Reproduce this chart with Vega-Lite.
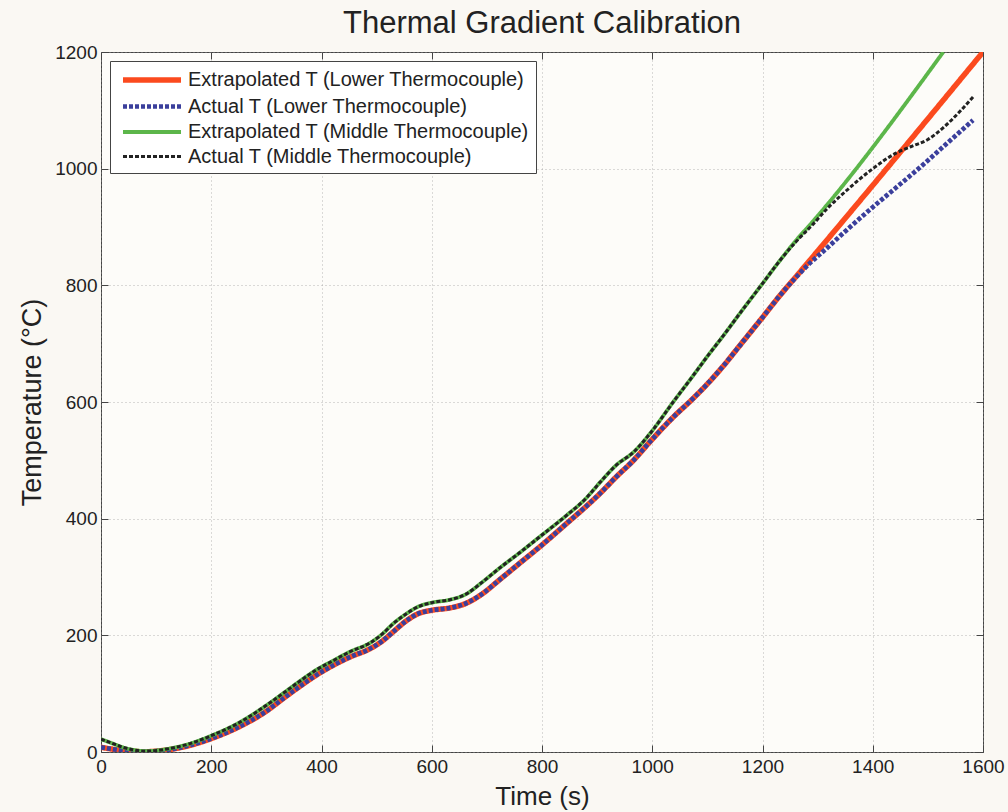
{
  "$schema": "https://vega.github.io/schema/vega-lite/v6.json",
  "width": 882,
  "height": 700,
  "autosize": "none",
  "padding": {"left": 101, "top": 52, "right": 25, "bottom": 60},
  "background": "#faf8f3",
  "title": {"text": "Thermal Gradient Calibration", "fontSize": 31, "font": "Liberation Sans", "fontWeight": "normal", "color": "#222222", "offset": 3},
  "config": {"view": {"stroke": "#444444", "strokeWidth": 1, "fill": "#fdfcf9"}, "font": "Liberation Sans"},
  "data": {"values": [
    {"s": "Extrapolated T (Lower Thermocouple)", "t": 0, "T": 8},
    {"s": "Extrapolated T (Lower Thermocouple)", "t": 20, "T": 5},
    {"s": "Extrapolated T (Lower Thermocouple)", "t": 40, "T": 2.5},
    {"s": "Extrapolated T (Lower Thermocouple)", "t": 60, "T": 1},
    {"s": "Extrapolated T (Lower Thermocouple)", "t": 80, "T": 0.5},
    {"s": "Extrapolated T (Lower Thermocouple)", "t": 100, "T": 1.5},
    {"s": "Extrapolated T (Lower Thermocouple)", "t": 130, "T": 5},
    {"s": "Extrapolated T (Lower Thermocouple)", "t": 160, "T": 11},
    {"s": "Extrapolated T (Lower Thermocouple)", "t": 200, "T": 23},
    {"s": "Extrapolated T (Lower Thermocouple)", "t": 250, "T": 43},
    {"s": "Extrapolated T (Lower Thermocouple)", "t": 300, "T": 70},
    {"s": "Extrapolated T (Lower Thermocouple)", "t": 331, "T": 92},
    {"s": "Extrapolated T (Lower Thermocouple)", "t": 360, "T": 112},
    {"s": "Extrapolated T (Lower Thermocouple)", "t": 391, "T": 132},
    {"s": "Extrapolated T (Lower Thermocouple)", "t": 420, "T": 148},
    {"s": "Extrapolated T (Lower Thermocouple)", "t": 452, "T": 163},
    {"s": "Extrapolated T (Lower Thermocouple)", "t": 488, "T": 177},
    {"s": "Extrapolated T (Lower Thermocouple)", "t": 510, "T": 190},
    {"s": "Extrapolated T (Lower Thermocouple)", "t": 530, "T": 206},
    {"s": "Extrapolated T (Lower Thermocouple)", "t": 554, "T": 225},
    {"s": "Extrapolated T (Lower Thermocouple)", "t": 575, "T": 237},
    {"s": "Extrapolated T (Lower Thermocouple)", "t": 600, "T": 243},
    {"s": "Extrapolated T (Lower Thermocouple)", "t": 633, "T": 247},
    {"s": "Extrapolated T (Lower Thermocouple)", "t": 660, "T": 254},
    {"s": "Extrapolated T (Lower Thermocouple)", "t": 690, "T": 270},
    {"s": "Extrapolated T (Lower Thermocouple)", "t": 724, "T": 296},
    {"s": "Extrapolated T (Lower Thermocouple)", "t": 760, "T": 324},
    {"s": "Extrapolated T (Lower Thermocouple)", "t": 800, "T": 355},
    {"s": "Extrapolated T (Lower Thermocouple)", "t": 845, "T": 392},
    {"s": "Extrapolated T (Lower Thermocouple)", "t": 880, "T": 421},
    {"s": "Extrapolated T (Lower Thermocouple)", "t": 905, "T": 443},
    {"s": "Extrapolated T (Lower Thermocouple)", "t": 935, "T": 472},
    {"s": "Extrapolated T (Lower Thermocouple)", "t": 966, "T": 500},
    {"s": "Extrapolated T (Lower Thermocouple)", "t": 996, "T": 532},
    {"s": "Extrapolated T (Lower Thermocouple)", "t": 1038, "T": 574},
    {"s": "Extrapolated T (Lower Thermocouple)", "t": 1074, "T": 606},
    {"s": "Extrapolated T (Lower Thermocouple)", "t": 1099, "T": 630},
    {"s": "Extrapolated T (Lower Thermocouple)", "t": 1130, "T": 663},
    {"s": "Extrapolated T (Lower Thermocouple)", "t": 1159, "T": 697},
    {"s": "Extrapolated T (Lower Thermocouple)", "t": 1200, "T": 745},
    {"s": "Extrapolated T (Lower Thermocouple)", "t": 1232, "T": 783},
    {"s": "Extrapolated T (Lower Thermocouple)", "t": 1260, "T": 814},
    {"s": "Extrapolated T (Lower Thermocouple)", "t": 1286, "T": 843},
    {"s": "Extrapolated T (Lower Thermocouple)", "t": 1600, "T": 1200},

    {"s": "Actual T (Lower Thermocouple)", "t": 0, "T": 8},
    {"s": "Actual T (Lower Thermocouple)", "t": 20, "T": 5},
    {"s": "Actual T (Lower Thermocouple)", "t": 40, "T": 2.5},
    {"s": "Actual T (Lower Thermocouple)", "t": 60, "T": 1},
    {"s": "Actual T (Lower Thermocouple)", "t": 80, "T": 0.5},
    {"s": "Actual T (Lower Thermocouple)", "t": 100, "T": 1.5},
    {"s": "Actual T (Lower Thermocouple)", "t": 130, "T": 5},
    {"s": "Actual T (Lower Thermocouple)", "t": 160, "T": 11},
    {"s": "Actual T (Lower Thermocouple)", "t": 200, "T": 23},
    {"s": "Actual T (Lower Thermocouple)", "t": 250, "T": 43},
    {"s": "Actual T (Lower Thermocouple)", "t": 300, "T": 70},
    {"s": "Actual T (Lower Thermocouple)", "t": 331, "T": 92},
    {"s": "Actual T (Lower Thermocouple)", "t": 360, "T": 112},
    {"s": "Actual T (Lower Thermocouple)", "t": 391, "T": 132},
    {"s": "Actual T (Lower Thermocouple)", "t": 420, "T": 148},
    {"s": "Actual T (Lower Thermocouple)", "t": 452, "T": 163},
    {"s": "Actual T (Lower Thermocouple)", "t": 488, "T": 177},
    {"s": "Actual T (Lower Thermocouple)", "t": 510, "T": 190},
    {"s": "Actual T (Lower Thermocouple)", "t": 530, "T": 206},
    {"s": "Actual T (Lower Thermocouple)", "t": 554, "T": 225},
    {"s": "Actual T (Lower Thermocouple)", "t": 575, "T": 237},
    {"s": "Actual T (Lower Thermocouple)", "t": 600, "T": 243},
    {"s": "Actual T (Lower Thermocouple)", "t": 633, "T": 247},
    {"s": "Actual T (Lower Thermocouple)", "t": 660, "T": 254},
    {"s": "Actual T (Lower Thermocouple)", "t": 690, "T": 270},
    {"s": "Actual T (Lower Thermocouple)", "t": 724, "T": 296},
    {"s": "Actual T (Lower Thermocouple)", "t": 760, "T": 324},
    {"s": "Actual T (Lower Thermocouple)", "t": 800, "T": 355},
    {"s": "Actual T (Lower Thermocouple)", "t": 845, "T": 392},
    {"s": "Actual T (Lower Thermocouple)", "t": 880, "T": 421},
    {"s": "Actual T (Lower Thermocouple)", "t": 905, "T": 443},
    {"s": "Actual T (Lower Thermocouple)", "t": 935, "T": 472},
    {"s": "Actual T (Lower Thermocouple)", "t": 966, "T": 500},
    {"s": "Actual T (Lower Thermocouple)", "t": 996, "T": 532},
    {"s": "Actual T (Lower Thermocouple)", "t": 1038, "T": 574},
    {"s": "Actual T (Lower Thermocouple)", "t": 1074, "T": 606},
    {"s": "Actual T (Lower Thermocouple)", "t": 1099, "T": 630},
    {"s": "Actual T (Lower Thermocouple)", "t": 1130, "T": 663},
    {"s": "Actual T (Lower Thermocouple)", "t": 1159, "T": 697},
    {"s": "Actual T (Lower Thermocouple)", "t": 1200, "T": 745},
    {"s": "Actual T (Lower Thermocouple)", "t": 1232, "T": 783},
    {"s": "Actual T (Lower Thermocouple)", "t": 1260, "T": 813},
    {"s": "Actual T (Lower Thermocouple)", "t": 1286, "T": 838},
    {"s": "Actual T (Lower Thermocouple)", "t": 1310, "T": 858},
    {"s": "Actual T (Lower Thermocouple)", "t": 1353, "T": 895},
    {"s": "Actual T (Lower Thermocouple)", "t": 1400, "T": 934},
    {"s": "Actual T (Lower Thermocouple)", "t": 1443, "T": 968},
    {"s": "Actual T (Lower Thermocouple)", "t": 1500, "T": 1014},
    {"s": "Actual T (Lower Thermocouple)", "t": 1540, "T": 1048},
    {"s": "Actual T (Lower Thermocouple)", "t": 1582, "T": 1083},

    {"s": "Extrapolated T (Middle Thermocouple)", "t": 0, "T": 22},
    {"s": "Extrapolated T (Middle Thermocouple)", "t": 20, "T": 15},
    {"s": "Extrapolated T (Middle Thermocouple)", "t": 40, "T": 8},
    {"s": "Extrapolated T (Middle Thermocouple)", "t": 60, "T": 3.5},
    {"s": "Extrapolated T (Middle Thermocouple)", "t": 80, "T": 1.5},
    {"s": "Extrapolated T (Middle Thermocouple)", "t": 100, "T": 2.5},
    {"s": "Extrapolated T (Middle Thermocouple)", "t": 130, "T": 7},
    {"s": "Extrapolated T (Middle Thermocouple)", "t": 160, "T": 14},
    {"s": "Extrapolated T (Middle Thermocouple)", "t": 200, "T": 28},
    {"s": "Extrapolated T (Middle Thermocouple)", "t": 250, "T": 50},
    {"s": "Extrapolated T (Middle Thermocouple)", "t": 300, "T": 80},
    {"s": "Extrapolated T (Middle Thermocouple)", "t": 331, "T": 101},
    {"s": "Extrapolated T (Middle Thermocouple)", "t": 360, "T": 121},
    {"s": "Extrapolated T (Middle Thermocouple)", "t": 391, "T": 141},
    {"s": "Extrapolated T (Middle Thermocouple)", "t": 420, "T": 156},
    {"s": "Extrapolated T (Middle Thermocouple)", "t": 452, "T": 172},
    {"s": "Extrapolated T (Middle Thermocouple)", "t": 488, "T": 187},
    {"s": "Extrapolated T (Middle Thermocouple)", "t": 510, "T": 202},
    {"s": "Extrapolated T (Middle Thermocouple)", "t": 530, "T": 220},
    {"s": "Extrapolated T (Middle Thermocouple)", "t": 554, "T": 237},
    {"s": "Extrapolated T (Middle Thermocouple)", "t": 575, "T": 249},
    {"s": "Extrapolated T (Middle Thermocouple)", "t": 600, "T": 256},
    {"s": "Extrapolated T (Middle Thermocouple)", "t": 633, "T": 261},
    {"s": "Extrapolated T (Middle Thermocouple)", "t": 663, "T": 271},
    {"s": "Extrapolated T (Middle Thermocouple)", "t": 690, "T": 290},
    {"s": "Extrapolated T (Middle Thermocouple)", "t": 724, "T": 316},
    {"s": "Extrapolated T (Middle Thermocouple)", "t": 760, "T": 342},
    {"s": "Extrapolated T (Middle Thermocouple)", "t": 800, "T": 372},
    {"s": "Extrapolated T (Middle Thermocouple)", "t": 845, "T": 406},
    {"s": "Extrapolated T (Middle Thermocouple)", "t": 880, "T": 435},
    {"s": "Extrapolated T (Middle Thermocouple)", "t": 905, "T": 462},
    {"s": "Extrapolated T (Middle Thermocouple)", "t": 935, "T": 492},
    {"s": "Extrapolated T (Middle Thermocouple)", "t": 966, "T": 514},
    {"s": "Extrapolated T (Middle Thermocouple)", "t": 996, "T": 546},
    {"s": "Extrapolated T (Middle Thermocouple)", "t": 1038, "T": 600},
    {"s": "Extrapolated T (Middle Thermocouple)", "t": 1074, "T": 645},
    {"s": "Extrapolated T (Middle Thermocouple)", "t": 1099, "T": 677},
    {"s": "Extrapolated T (Middle Thermocouple)", "t": 1130, "T": 715},
    {"s": "Extrapolated T (Middle Thermocouple)", "t": 1159, "T": 752},
    {"s": "Extrapolated T (Middle Thermocouple)", "t": 1200, "T": 803},
    {"s": "Extrapolated T (Middle Thermocouple)", "t": 1232, "T": 843},
    {"s": "Extrapolated T (Middle Thermocouple)", "t": 1260, "T": 876},
    {"s": "Extrapolated T (Middle Thermocouple)", "t": 1290, "T": 908},
    {"s": "Extrapolated T (Middle Thermocouple)", "t": 1528, "T": 1200},

    {"s": "Actual T (Middle Thermocouple)", "t": 0, "T": 22},
    {"s": "Actual T (Middle Thermocouple)", "t": 20, "T": 15},
    {"s": "Actual T (Middle Thermocouple)", "t": 40, "T": 8},
    {"s": "Actual T (Middle Thermocouple)", "t": 60, "T": 3.5},
    {"s": "Actual T (Middle Thermocouple)", "t": 80, "T": 1.5},
    {"s": "Actual T (Middle Thermocouple)", "t": 100, "T": 2.5},
    {"s": "Actual T (Middle Thermocouple)", "t": 130, "T": 7},
    {"s": "Actual T (Middle Thermocouple)", "t": 160, "T": 14},
    {"s": "Actual T (Middle Thermocouple)", "t": 200, "T": 28},
    {"s": "Actual T (Middle Thermocouple)", "t": 250, "T": 50},
    {"s": "Actual T (Middle Thermocouple)", "t": 300, "T": 80},
    {"s": "Actual T (Middle Thermocouple)", "t": 331, "T": 101},
    {"s": "Actual T (Middle Thermocouple)", "t": 360, "T": 121},
    {"s": "Actual T (Middle Thermocouple)", "t": 391, "T": 141},
    {"s": "Actual T (Middle Thermocouple)", "t": 420, "T": 156},
    {"s": "Actual T (Middle Thermocouple)", "t": 452, "T": 172},
    {"s": "Actual T (Middle Thermocouple)", "t": 488, "T": 187},
    {"s": "Actual T (Middle Thermocouple)", "t": 510, "T": 202},
    {"s": "Actual T (Middle Thermocouple)", "t": 530, "T": 220},
    {"s": "Actual T (Middle Thermocouple)", "t": 554, "T": 237},
    {"s": "Actual T (Middle Thermocouple)", "t": 575, "T": 249},
    {"s": "Actual T (Middle Thermocouple)", "t": 600, "T": 256},
    {"s": "Actual T (Middle Thermocouple)", "t": 633, "T": 261},
    {"s": "Actual T (Middle Thermocouple)", "t": 663, "T": 271},
    {"s": "Actual T (Middle Thermocouple)", "t": 690, "T": 290},
    {"s": "Actual T (Middle Thermocouple)", "t": 724, "T": 316},
    {"s": "Actual T (Middle Thermocouple)", "t": 760, "T": 342},
    {"s": "Actual T (Middle Thermocouple)", "t": 800, "T": 372},
    {"s": "Actual T (Middle Thermocouple)", "t": 845, "T": 406},
    {"s": "Actual T (Middle Thermocouple)", "t": 880, "T": 435},
    {"s": "Actual T (Middle Thermocouple)", "t": 905, "T": 462},
    {"s": "Actual T (Middle Thermocouple)", "t": 935, "T": 492},
    {"s": "Actual T (Middle Thermocouple)", "t": 966, "T": 514},
    {"s": "Actual T (Middle Thermocouple)", "t": 996, "T": 546},
    {"s": "Actual T (Middle Thermocouple)", "t": 1038, "T": 600},
    {"s": "Actual T (Middle Thermocouple)", "t": 1074, "T": 645},
    {"s": "Actual T (Middle Thermocouple)", "t": 1099, "T": 677},
    {"s": "Actual T (Middle Thermocouple)", "t": 1130, "T": 715},
    {"s": "Actual T (Middle Thermocouple)", "t": 1159, "T": 752},
    {"s": "Actual T (Middle Thermocouple)", "t": 1200, "T": 803},
    {"s": "Actual T (Middle Thermocouple)", "t": 1232, "T": 843},
    {"s": "Actual T (Middle Thermocouple)", "t": 1260, "T": 874},
    {"s": "Actual T (Middle Thermocouple)", "t": 1290, "T": 903},
    {"s": "Actual T (Middle Thermocouple)", "t": 1320, "T": 934},
    {"s": "Actual T (Middle Thermocouple)", "t": 1353, "T": 963},
    {"s": "Actual T (Middle Thermocouple)", "t": 1400, "T": 1000},
    {"s": "Actual T (Middle Thermocouple)", "t": 1443, "T": 1027},
    {"s": "Actual T (Middle Thermocouple)", "t": 1470, "T": 1038},
    {"s": "Actual T (Middle Thermocouple)", "t": 1500, "T": 1050},
    {"s": "Actual T (Middle Thermocouple)", "t": 1530, "T": 1072},
    {"s": "Actual T (Middle Thermocouple)", "t": 1560, "T": 1100},
    {"s": "Actual T (Middle Thermocouple)", "t": 1582, "T": 1123}
  ]},
  "layer": [
    {
      "mark": {"type": "line", "interpolate": "monotone", "strokeCap": "butt", "clip": true},
      "encoding": {
        "x": {"field": "t", "type": "quantitative", "scale": {"domain": [0, 1600], "nice": false},
          "axis": {"orient": "bottom", "values": [0, 200, 400, 600, 800, 1000, 1200, 1400, 1600], "format": "d", "grid": true, "gridDash": [1, 3], "gridColor": "#999999", "gridOpacity": 0.7, "domain": false, "ticks": true, "tickSize": -7, "tickColor": "#444444", "labelFontSize": 19, "labelColor": "#222222", "labelPadding": 12, "labelFlush": false, "title": "Time (s)", "titleFontSize": 26, "titleFontWeight": "normal", "titleColor": "#222222", "titlePadding": 7}},
        "y": {"field": "T", "type": "quantitative", "scale": {"domain": [0, 1200], "nice": false},
          "axis": {"orient": "left", "values": [0, 200, 400, 600, 800, 1000, 1200], "format": "d", "grid": true, "gridDash": [1, 3], "gridColor": "#999999", "gridOpacity": 0.7, "domain": false, "ticks": true, "tickSize": -7, "tickColor": "#444444", "labelFontSize": 19, "labelColor": "#222222", "labelPadding": 11, "labelFlush": false, "title": "Temperature (°C)", "titleFontSize": 27, "titleFontWeight": "normal", "titleColor": "#222222", "titlePadding": 8}},
        "color": {"field": "s", "type": "nominal",
          "scale": {"domain": ["Extrapolated T (Lower Thermocouple)", "Actual T (Lower Thermocouple)", "Extrapolated T (Middle Thermocouple)", "Actual T (Middle Thermocouple)"], "range": ["#fb4a1e", "#3b3f9c", "#5cb64a", "#222222"]},
          "legend": {"title": null, "orient": "top-left", "offset": 9, "padding": 6, "fillColor": "#ffffff", "strokeColor": "#444444", "symbolType": "M-2.9,0H2.9", "symbolSize": 400, "symbolOffset": 23, "labelOffset": 23, "labelFontSize": 20, "labelColor": "#222222", "rowPadding": 3, "labelLimit": 0}},
        "strokeDash": {"field": "s", "type": "nominal",
          "scale": {"domain": ["Extrapolated T (Lower Thermocouple)", "Actual T (Lower Thermocouple)", "Extrapolated T (Middle Thermocouple)", "Actual T (Middle Thermocouple)"], "range": [[1, 0], [4, 2], [1, 0], [4, 2]]}},
        "strokeWidth": {"field": "s", "type": "nominal",
          "scale": {"domain": ["Extrapolated T (Lower Thermocouple)", "Actual T (Lower Thermocouple)", "Extrapolated T (Middle Thermocouple)", "Actual T (Middle Thermocouple)"], "range": [5.5, 3, 5.5, 3]}}
      }
    },
    {
      "mark": {"type": "point", "opacity": 0},
      "encoding": {
        "x": {"field": "t", "type": "quantitative", "axis": {"orient": "top", "values": [0, 200, 400, 600, 800, 1000, 1200, 1400, 1600], "labels": false, "grid": false, "domain": false, "tickSize": -7, "tickColor": "#444444", "title": null}},
        "y": {"field": "T", "type": "quantitative", "axis": {"orient": "right", "values": [0, 200, 400, 600, 800, 1000, 1200], "labels": false, "grid": false, "domain": false, "tickSize": -7, "tickColor": "#444444", "title": null}}
      }
    }
  ],
  "resolve": {"axis": {"x": "independent", "y": "independent"}}
}
